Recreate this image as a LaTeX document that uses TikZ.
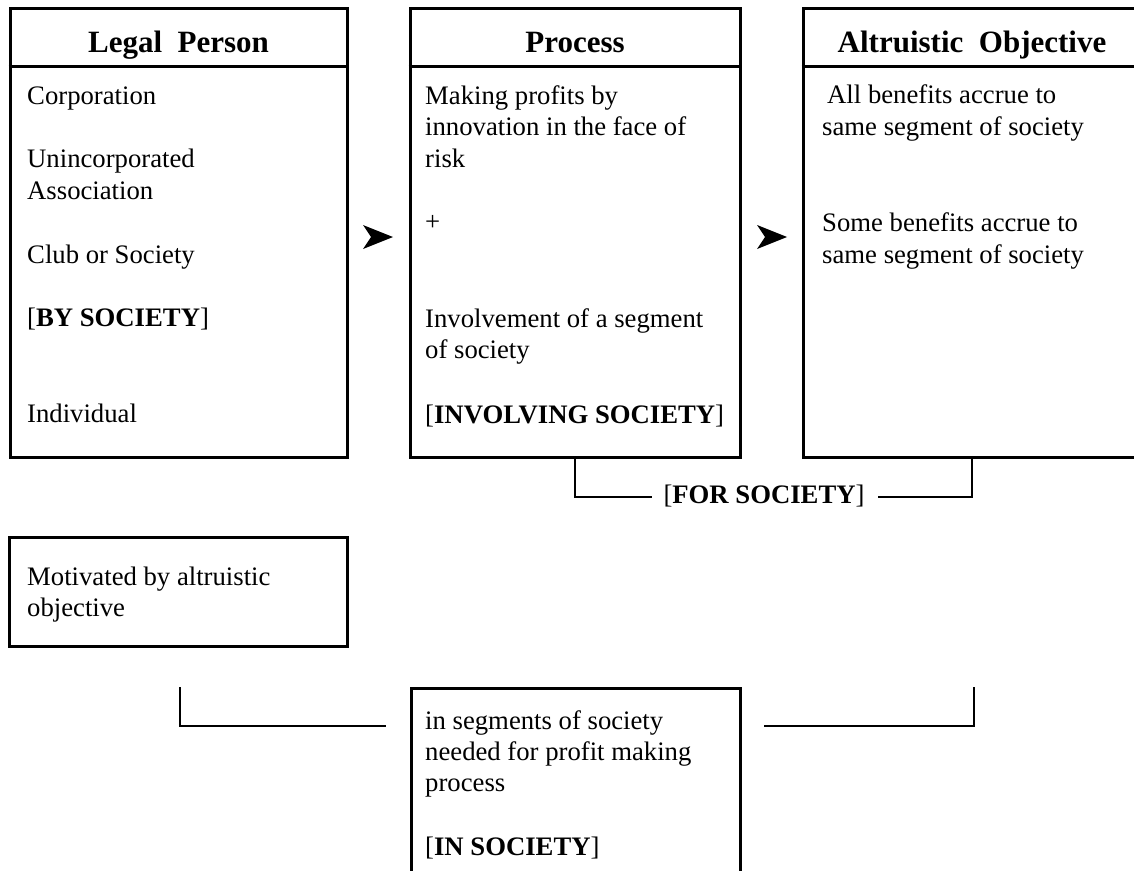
\documentclass[tikz,border=0pt]{standalone}
\usepackage{fontspec}
\setmainfont{Liberation Serif}
\usetikzlibrary{calc}
\begin{document}
\begin{tikzpicture}[x=1pt,y=-1pt,
  box/.style={draw, line width=3pt, inner sep=0pt, rectangle},
  hline/.style={line width=3pt},
  txt/.style={anchor=base west, inner sep=0pt, font=\fontsize{26.7}{32}\selectfont},
  hdr/.style={anchor=base, inner sep=0pt, font=\fontsize{31}{36}\selectfont\bfseries},
  brk/.style={line width=2pt},
  tiphead/.style={fill=black}]
\useasboundingbox (0,0) rectangle (1134,870);
\fill[white] (0,0) rectangle (1134,870);
\begin{scope}
\clip (0,0) rectangle (1134,870);
% boxes
\node[box, minimum width=337pt, minimum height=449pt] (lp) at (178.5,232.5) {};
\node[box, minimum width=330pt, minimum height=449pt] (pr) at (575,232.5) {};
\node[box, minimum width=338pt, minimum height=449pt] (ao) at (972,232.5) {};
\node[box, minimum width=338pt, minimum height=109pt] (mo) at (178,591.5) {};
\node[box, minimum width=329pt, minimum height=212pt] (ins) at (575.5,794) {};
% header rules
\draw[hline] ($(lp.north west)+(0,60)$) -- ($(lp.north east)+(0,60)$);
\draw[hline] ($(pr.north west)+(0,60)$) -- ($(pr.north east)+(0,60)$);
\draw[hline] ($(ao.north west)+(0,60)$) -- ($(ao.north east)+(0,60)$);
\end{scope}
% headers
\node[hdr] (h1) at (178.5,52) {Legal\ \ Person};
\node[hdr] (h2) at (575,52) {Process};
\node[hdr] (h3) at (972,52) {Altruistic\ \ Objective};
% legal person texts
\node[txt] (l1) at (27,104) {Corporation};
\node[txt] (l2) at (27,167) {Unincorporated};
\node[txt] (l3) at (27,199) {Association};
\node[txt] (l4) at (27,263) {Club or Society};
\node[txt] (l5) at (27,326) {[\textbf{BY SOCIETY}]};
\node[txt] (l6) at (27,422) {Individual};
% process texts
\node[txt] (p1) at (425,104) {Making profits by};
\node[txt] (p2) at (425,135) {innovation in the face of};
\node[txt] (p3) at (425,167) {risk};
\node[txt] (p4) at (425,230) {+};
\node[txt] (p5) at (425,327) {Involvement of a segment};
\node[txt] (p6) at (425,358) {of society};
\node[txt] (p7) at (425,423) {[\textbf{INVOLVING SOCIETY}]};
% objective texts
\node[txt] (a1) at (822,103) {\hspace*{5pt}All benefits accrue to};
\node[txt] (a2) at (822,135) {same segment of society};
\node[txt] (a3) at (822,231) {Some benefits accrue to};
\node[txt] (a4) at (822,263) {same segment of society};
% motivated
\node[txt] (m1) at (27,585) {Motivated by altruistic};
\node[txt] (m2) at (27,616) {objective};
% in society
\node[txt] (i1) at (425,729) {in segments of society};
\node[txt] (i2) at (425,760) {needed for profit making};
\node[txt] (i3) at (425,791) {process};
\node[txt] (i4) at (425,855) {[\textbf{IN SOCIETY}]};
% arrowheads
\coordinate (ar1a) at (363,225); \coordinate (ar1t) at (393,237);
\coordinate (ar1b) at (363,249); \coordinate (ar1n) at (371,237);
\fill[tiphead] (ar1a) -- (ar1t) -- (ar1b) -- (ar1n) -- cycle;
\coordinate (ar2a) at (757,225); \coordinate (ar2t) at (787,237);
\coordinate (ar2b) at (757,249); \coordinate (ar2n) at (765,237);
\fill[tiphead] (ar2a) -- (ar2t) -- (ar2b) -- (ar2n) -- cycle;
% for society bracket
\node[txt, anchor=base] (fs) at (764,503) {[\textbf{FOR SOCIETY}]};
\coordinate (fl) at (652,497);
\coordinate (fr) at (878,497);
\draw[brk] (pr.south) |- (fl);
\draw[brk] (ao.south) |- (fr);
% bottom brackets
\coordinate (bl1) at (180,687); \coordinate (bl2) at (386,726);
\draw[brk] (bl1) |- (bl2);
\coordinate (br1) at (974,687); \coordinate (br2) at (764,726);
\draw[brk] (br1) |- (br2);
\end{tikzpicture}
\end{document}
